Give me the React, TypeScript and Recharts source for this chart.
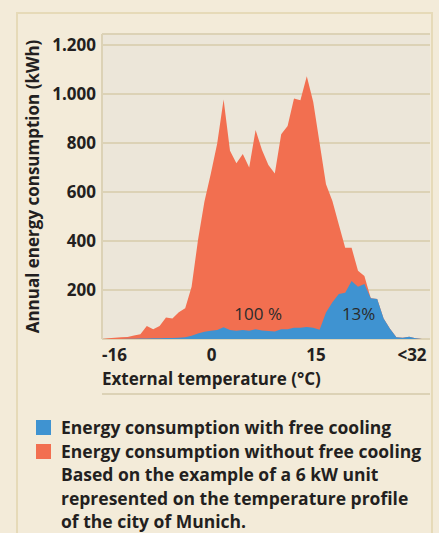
import React from 'react';
import { AreaChart, Area, XAxis, YAxis, CartesianGrid, ReferenceLine, ReferenceDot } from 'recharts';

// one point per degree, -17 .. 33 °C
const TEMPS = [
  -17, -16, -15, -14, -13, -12, -11, -10, -9, -8, -7, -6, -5, -4, -3, -2, -1,
  0, 1, 2, 3, 4, 5, 6, 7, 8, 9, 10, 11, 12, 13, 14, 15, 16,
  17, 18, 19, 20, 21, 22, 23, 24, 25, 26, 27, 28, 29, 30, 31, 32, 33,
];

const WITHOUT_FREE_COOLING = [
  0, 3, 5, 7, 8, 14, 19, 53, 40, 53, 88, 84, 109, 126, 213, 404, 560,
  675, 798, 978, 768, 717, 755, 700, 853, 771, 710, 676, 836, 869, 982, 975, 1073, 968,
  800, 632, 563, 467, 372, 372, 279, 257, 166, 163, 84, 42, 7, 5, 9, 3, 0,
];

const WITH_FREE_COOLING = [
  0, 0, 0, 0, 1, 1, 2, 2, 3, 3, 4, 4, 5, 7, 13, 22, 30,
  34, 37, 48, 37, 34, 37, 34, 40, 35, 33, 31, 40, 40, 46, 46, 49, 46,
  38, 108, 150, 184, 189, 237, 213, 224, 166, 163, 84, 42, 7, 5, 9, 3, 0,
];

const Y_TICKS = [0, 200, 400, 600, 800, 1000, 1200];
const Y_MAX = 1245;
const X_MIN = -17;
const X_MAX = 34.25;

// printed temperature labels and where they sit on the axis
const X_LABELS = ['-16', '0', '15', '<32'];
const X_LABEL_AT = [-15.05, 0.14, 16.44, 31.44];

const SHARE_TEXT = ['100 %', '13%'];
const SHARE_TEMP = [7.4, 23.1];
const SHARE_KWH = [102, 102];

const SERIES_NAMES = ['Energy consumption with free cooling', 'Energy consumption without free cooling'];
const NOTE_LINES = [
  'Based on the example of a 6 kW unit',
  'represented on the temperature profile',
  'of the city of Munich.',
];

const BLUE = '#3f93d1';
const RED = '#f26f50';
const INK = '#231f20';
const LINE = '#dcd2b6';
const FONT = '"Open Sans", "Noto Sans", sans-serif';

const data = TEMPS.map((t, i) => ({
  temp: t,
  without: WITHOUT_FREE_COOLING[i],
  with: WITH_FREE_COOLING[i],
}));

const formatKwh = (v: number) => String(v).replace(/\B(?=(\d{3})+(?!\d))/g, '.');

const labelText = (v: number) => {
  const idx = X_LABEL_AT.indexOf(v);
  return idx >= 0 ? X_LABELS[idx] : '';
};

const XTitle = (props: any) => {
  const { viewBox } = props;
  if (!viewBox) return null;
  return (
    <text
      x={viewBox.x}
      y={viewBox.y + 46}
      fontFamily={FONT}
      fontWeight={700}
      fontSize={17}
      fill={INK}
    >
      External temperature (°C)
    </text>
  );
};

const App: React.FC = () => {
  return (
    <div style={{ position: 'relative', width: 439, height: 533, background: '#f3ebd9', overflow: 'hidden', fontFamily: FONT }}>
      <style>{'body{margin:0}'}</style>
      <div
        style={{
          position: 'absolute',
          left: 16,
          top: 12,
          width: 413,
          height: 540,
          border: '2px solid #e6dab8',
        }}
      />
      <div style={{ position: 'absolute', left: 0, top: 0 }}>
        <AreaChart width={439} height={400} data={data} margin={{ top: 34, right: 9, bottom: 0, left: 0 }}>
          <CartesianGrid
            xAxisId="temp"
            vertical={false}
            stroke={LINE}
            strokeWidth={2}
            fill="#ece6d9"
            fillOpacity={1}
          />
          <XAxis
            xAxisId="temp"
            dataKey="temp"
            type="number"
            domain={[X_MIN, X_MAX]}
            ticks={TEMPS}
            interval={0}
            tick={false}
            tickSize={5}
            tickLine={{ stroke: LINE, strokeWidth: 1 }}
            axisLine={{ stroke: LINE, strokeWidth: 2 }}
            height={6}
            allowDataOverflow
          />
          <XAxis
            xAxisId="labels"
            dataKey="temp"
            type="number"
            domain={[X_MIN, X_MAX]}
            ticks={X_LABEL_AT}
            interval={0}
            tickFormatter={labelText}
            tickLine={false}
            tickSize={0}
            tickMargin={10}
            axisLine={false}
            height={55}
            tick={{ fill: INK, fontSize: 17, fontWeight: 700, fontFamily: FONT }}
            label={<XTitle />}
            allowDataOverflow
          />
          <YAxis
            type="number"
            domain={[0, Y_MAX]}
            ticks={Y_TICKS}
            interval={0}
            width={102}
            tickFormatter={(v: number) => (v === 0 ? '' : formatKwh(v))}
            tickLine={false}
            tickSize={0}
            tickMargin={6}
            axisLine={{ stroke: LINE, strokeWidth: 2 }}
            tick={{ fill: INK, fontSize: 17, fontWeight: 700, fontFamily: FONT }}
            allowDataOverflow
            label={{
              value: 'Annual energy consumption (kWh)',
              angle: -90,
              position: 'insideLeft',
              offset: 33,
              fill: INK,
              style: { textAnchor: 'middle', fontSize: 17, fontWeight: 700, fontFamily: FONT },
            }}
          />
          <ReferenceLine xAxisId="temp" y={Y_MAX} stroke={LINE} strokeWidth={2} />
          <Area
            xAxisId="temp"
            type="linear"
            dataKey="without"
            name={SERIES_NAMES[1]}
            stroke="none"
            fill={RED}
            fillOpacity={1}
            isAnimationActive={false}
          />
          <Area
            xAxisId="temp"
            type="linear"
            dataKey="with"
            name={SERIES_NAMES[0]}
            stroke="none"
            fill={BLUE}
            fillOpacity={1}
            isAnimationActive={false}
          />
          {SHARE_TEXT.map((txt, i) => (
            <ReferenceDot
              key={txt}
              xAxisId="temp"
              x={SHARE_TEMP[i]}
              y={SHARE_KWH[i]}
              r={0}
              fill="none"
              stroke="none"
              label={{
                value: txt,
                position: 'center',
                fill: '#2b2b2b',
                fontSize: 17,
                fontFamily: FONT,
              }}
            />
          ))}
        </AreaChart>
      </div>
      <div
        style={{
          position: 'absolute',
          left: 36,
          top: 416,
          fontSize: 17.5,
          fontWeight: 700,
          lineHeight: '23.5px',
          color: INK,
          whiteSpace: 'nowrap',
        }}
      >
        {SERIES_NAMES.map((name, i) => (
          <div key={name} style={{ display: 'flex', alignItems: 'center' }}>
            <span style={{ display: 'inline-block', width: 15, height: 15, marginRight: 10, background: i === 0 ? BLUE : RED }} />
            <span>{name}</span>
          </div>
        ))}
        {NOTE_LINES.map((line) => (
          <div key={line} style={{ paddingLeft: 25 }}>
            {line}
          </div>
        ))}
      </div>
    </div>
  );
};

export default App;
